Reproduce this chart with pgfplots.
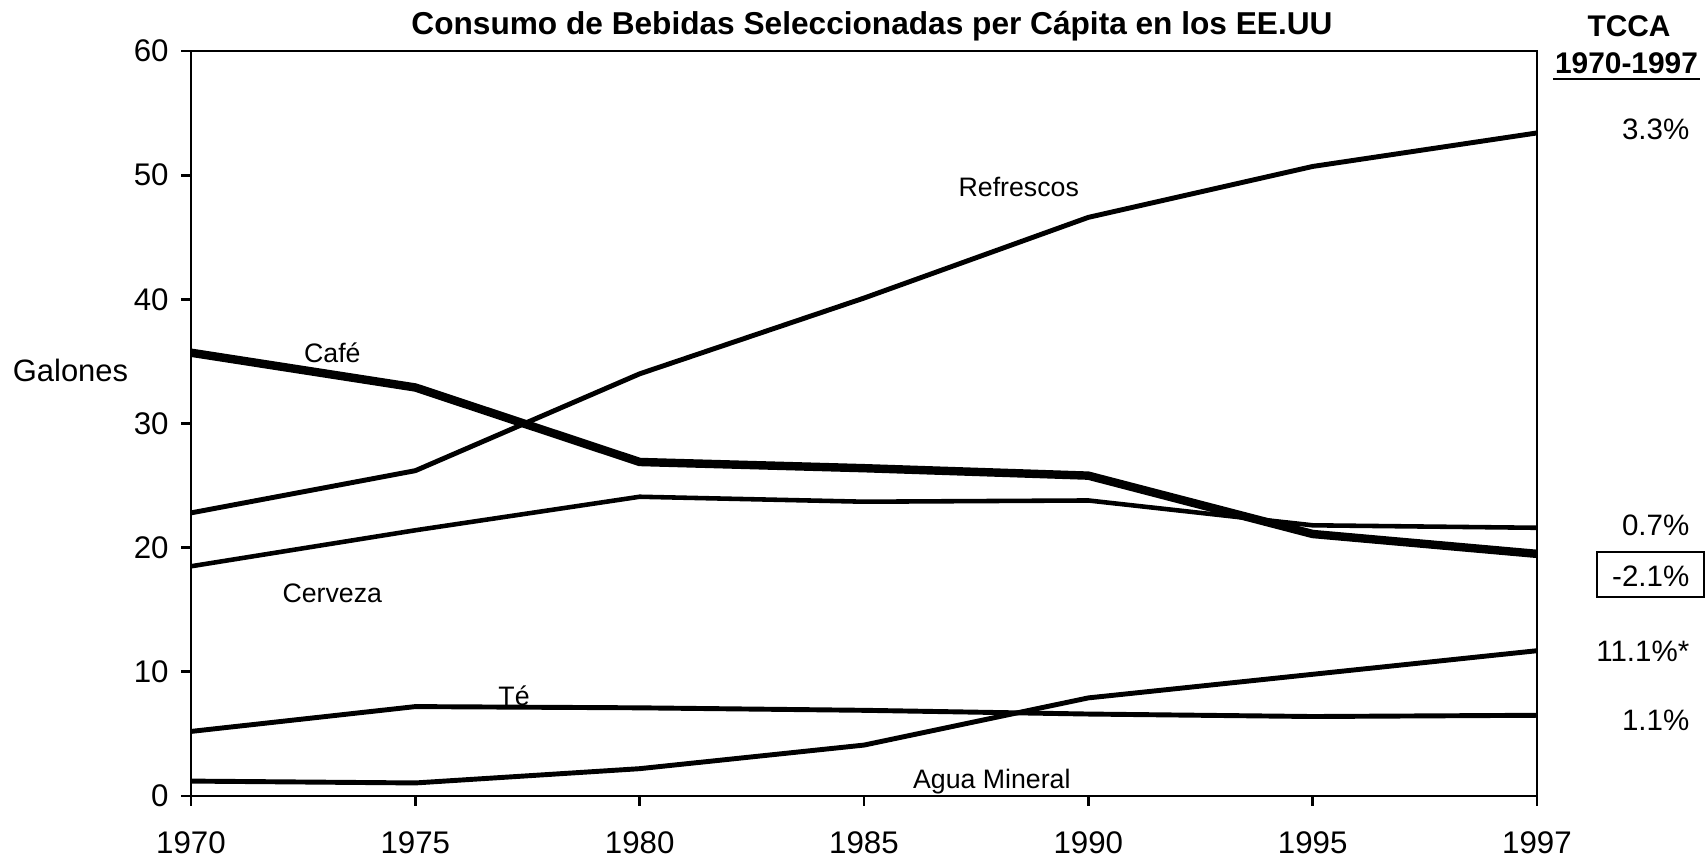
\documentclass[border=0pt]{standalone}
\usepackage{fontspec}
\setmainfont{Liberation Sans}
\usepackage{pgfplots}
\pgfplotsset{compat=1.18}

\newcommand{\lbl}{\fontsize{7.6}{9}\selectfont}
\newcommand{\pct}{\fontsize{8.4}{10}\selectfont}

\begin{document}
\begin{tikzpicture}
\useasboundingbox (0,0) rectangle (170.6mm,86.4mm);
\begin{axis}[
  at={(19.1mm,6.8mm)}, anchor=south west,
  scale only axis,
  width=134.6mm, height=74.5mm,
  xmin=0, xmax=6, ymin=0, ymax=60,
  xtick={0,...,6},
  xticklabels={1970,1975,1980,1985,1990,1995,1997},
  ytick={0,10,...,60},
  tick align=outside,
  major tick length=1.0mm,
  xtick pos=left, ytick pos=left,
  axis line style={line width=0.8pt},
  tick style={line width=0.8pt, black},
  ticklabel style={font=\fontsize{8.9}{10}\selectfont},
  xticklabel style={yshift=-1.3mm},
  /pgf/number format/assume math mode=true,
  clip=false,
]
% Refrescos
\addplot[black, line width=1.4pt] coordinates {(0,22.8) (1,26.2) (2,34.0) (3,40.1) (4,46.6) (5,50.7) (6,53.4)};
% Cafe
\addplot[black, line width=2.4pt] coordinates {(0,35.7) (1,32.9) (2,26.9) (3,26.4) (4,25.8) (5,21.1) (6,19.5)};
% Cerveza
\addplot[black, line width=1.3pt] coordinates {(0,18.5) (1,21.4) (2,24.1) (3,23.7) (4,23.8) (5,21.8) (6,21.6)};
% Te
\addplot[black, line width=1.4pt] coordinates {(0,5.2) (1,7.2) (2,7.1) (3,6.9) (4,6.6) (5,6.4) (6,6.5)};
% Agua Mineral
\addplot[black, line width=1.4pt] coordinates {(0,1.2) (1,1.05) (2,2.2) (3,4.1) (4,7.9) (5,9.8) (6,11.7)};

\node[anchor=base, font=\lbl] at (axis cs:3.69,48.3) {Refrescos};
\node[anchor=base, font=\lbl] at (axis cs:0.63,34.9) {Café};
\node[anchor=base, font=\lbl] at (axis cs:0.63,15.6) {Cerveza};
\node[anchor=base, font=\lbl] at (axis cs:1.44,7.3) {Té};
\node[anchor=base, font=\lbl] at (axis cs:3.57,0.64) {Agua Mineral};
\end{axis}

\node[anchor=base, font=\bfseries\fontsize{9}{11}\selectfont] at (87.2mm,82.9mm)
  {Consumo de Bebidas Seleccionadas per Cápita en los EE.UU};
\node[anchor=base, font=\fontsize{8.8}{10}\selectfont] at (7.05mm,48.2mm) {Galones};

\node[anchor=base, inner sep=0, font=\bfseries\fontsize{8.5}{10}\selectfont] at (162.9mm,82.7mm) {TCCA};
\node[anchor=base, inner sep=0, font=\bfseries\fontsize{8.5}{10}\selectfont] at (162.65mm,79.0mm) {1970-1997};
\draw[line width=0.6pt] (155.3mm,78.47mm) -- (170.0mm,78.47mm);

\node[anchor=base east, inner sep=0, font=\pct] at (169.0mm,72.4mm) {3.3\%};
\node[anchor=base east, inner sep=0, font=\pct] at (169.0mm,32.8mm) {0.7\%};
\node[anchor=base east, inner sep=0, font=\pct] at (169.0mm,27.7mm) {-2.1\%};
\draw[line width=0.5pt] (159.7mm,26.7mm) rectangle (170.4mm,31.2mm);
\node[anchor=base east, inner sep=0, font=\pct] at (169.0mm,20.2mm) {11.1\%*};
\node[anchor=base east, inner sep=0, font=\pct] at (169.0mm,13.3mm) {1.1\%};
\end{tikzpicture}
\end{document}
